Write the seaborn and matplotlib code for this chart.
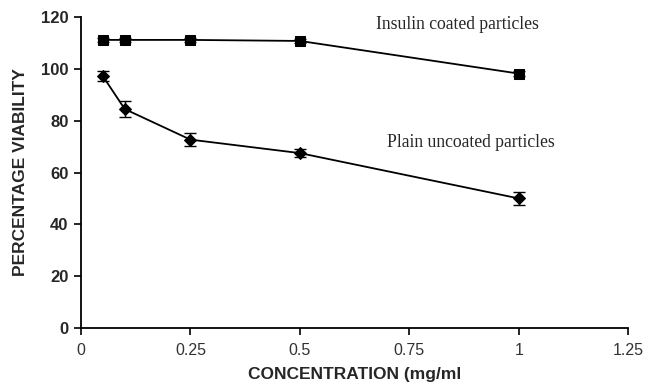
import matplotlib
matplotlib.use("Agg")
import matplotlib.pyplot as plt
import seaborn as sns
import pandas as pd

concentration = [0.05, 0.1, 0.25, 0.5, 1.0]
insulin_coated = [111.2, 111.2, 111.2, 110.8, 98.2]
insulin_err = [0.8, 0.8, 0.8, 0.8, 1.0]
plain_uncoated = [97.2, 84.5, 72.7, 67.5, 50.0]
plain_err = [2.0, 3.0, 2.5, 1.5, 2.5]
series_names = ["Insulin coated particles", "Plain uncoated particles"]
x_ticks = [0, 0.25, 0.5, 0.75, 1, 1.25]
x_tick_labels = ["0", "0.25", "0.5", "0.75", "1", "1.25"]
y_ticks = [0, 20, 40, 60, 80, 100, 120]

df = pd.DataFrame({
    "conc": concentration * 2,
    "viability": insulin_coated + plain_uncoated,
    "err": insulin_err + plain_err,
    "series": [series_names[0]] * 5 + [series_names[1]] * 5,
})

sns.set_theme(style="white")
plt.rcParams["font.family"] = ["Liberation Sans", "DejaVu Sans"]

fig = plt.figure(figsize=(6.53, 3.89), dpi=100)
ax = fig.add_axes([0.124, 0.157, 0.838, 0.799])

sns.lineplot(data=df, x="conc", y="viability", style="series",
             markers={series_names[0]: "s", series_names[1]: "D"},
             dashes=False, color="black", markersize=6.5, linewidth=1.3,
             markeredgecolor="black", legend=False, ax=ax)
for name in series_names:
    sub = df[df["series"] == name]
    ax.errorbar(sub["conc"], sub["viability"], yerr=sub["err"], fmt="none",
                ecolor="black", elinewidth=1.0, capsize=4, capthick=1.0)

ax.set_xlim(0, 1.25)
ax.set_ylim(0, 120)
ax.set_xticks(x_ticks)
ax.set_xticklabels(x_tick_labels)
ax.set_yticks(y_ticks)
for s in ["top", "right"]:
    ax.spines[s].set_visible(False)
for s in ["left", "bottom"]:
    ax.spines[s].set_color("black")
    ax.spines[s].set_linewidth(1.3)
ax.tick_params(axis="both", direction="out", length=5, width=1.2, color="black",
               bottom=True, left=True)
ax.tick_params(axis="x", labelsize=11.5, labelcolor="#333333", pad=6)
ax.tick_params(axis="y", labelsize=12, pad=4)
for lab in ax.get_yticklabels():
    lab.set_fontweight("bold")

ax.set_xlabel("CONCENTRATION (mg/ml", fontsize=12.5, fontweight="bold", labelpad=6)
ax.set_ylabel("PERCENTAGE VIABILITY", fontsize=12.5, fontweight="bold", labelpad=9)

ax.text(0.674, 117, series_names[0], fontsize=12.7, family="Liberation Serif",
        va="center", ha="left")
ax.text(0.70, 71.4, series_names[1], fontsize=12.7, family="Liberation Serif",
        va="center", ha="left")

fig.savefig("out.png", dpi=100)
